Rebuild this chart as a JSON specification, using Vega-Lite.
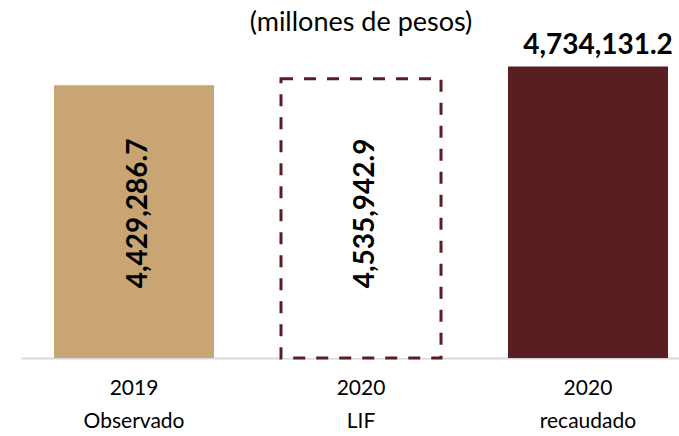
{
  "$schema": "https://vega.github.io/schema/vega-lite/v6.json",
  "width": 658,
  "height": 357,
  "autosize": {"type": "none"},
  "padding": {"left": 21, "top": 1, "right": 0, "bottom": 78},
  "background": "white",
  "config": {"view": {"stroke": null}, "font": "Lato"},
  "data": {
    "values": [
      {"cat": "2019|Observado", "value": 4429286.7},
      {"cat": "2020|LIF", "value": 4535942.9},
      {"cat": "2020|recaudado", "value": 4734131.2}
    ]
  },
  "encoding": {
    "x": {
      "field": "cat",
      "type": "nominal",
      "sort": ["2019|Observado", "2020|LIF", "2020|recaudado"],
      "scale": {"paddingInner": 0.295, "paddingOuter": 0.097, "align": 0.75},
      "axis": {
        "title": null,
        "labelAngle": 0,
        "labelExpr": "split(datum.label, '|')",
        "labelFont": "Lato",
        "labelFontSize": 21,
        "labelColor": "#000000",
        "labelLineHeight": 33,
        "labelPadding": 19,
        "ticks": false,
        "grid": false,
        "domainColor": "#d9d9d9",
        "domainWidth": 2
      }
    }
  },
  "layer": [
    {
      "transform": [{"filter": "datum.cat != '2020|LIF'"}],
      "mark": {"type": "bar"},
      "encoding": {
        "y": {"field": "value", "type": "quantitative", "scale": {"domain": [0, 5800000], "nice": false}, "axis": null},
        "color": {
          "field": "cat",
          "type": "nominal",
          "scale": {"domain": ["2019|Observado", "2020|recaudado"], "range": ["#C8A573", "#591E22"]},
          "legend": null
        }
      }
    },
    {
      "transform": [{"filter": "datum.cat == '2020|LIF'"}],
      "mark": {"type": "bar", "fill": "#ffffff", "stroke": "#591E22", "strokeWidth": 3, "strokeDash": [12, 11]},
      "encoding": {
        "y": {"field": "value", "type": "quantitative", "scale": {"domain": [0, 5800000], "nice": false}, "axis": null}
      }
    },
    {
      "transform": [{"filter": "datum.cat == '2020|recaudado'"}],
      "mark": {"type": "text", "fontWeight": "bold", "fontSize": 28, "baseline": "alphabetic", "align": "center", "dy": -13, "dx": 10, "color": "#000000"},
      "encoding": {
        "y": {"field": "value", "type": "quantitative", "scale": {"domain": [0, 5800000], "nice": false}, "axis": null},
        "text": {"field": "value", "type": "quantitative", "format": ",.1f"}
      }
    },
    {
      "transform": [{"filter": "datum.cat != '2020|recaudado'"}],
      "mark": {"type": "text", "fontWeight": "bold", "fontSize": 28, "angle": 270, "baseline": "middle", "align": "center", "dy": 5, "color": "#000000"},
      "encoding": {
        "y": {"datum": 2350000, "type": "quantitative", "scale": {"domain": [0, 5800000], "nice": false}, "axis": null},
        "text": {"field": "value", "type": "quantitative", "format": ",.1f"}
      }
    },
    {
      "transform": [{"filter": "datum.cat == '2020|LIF'"}],
      "mark": {"type": "text", "fontSize": 27, "baseline": "alphabetic", "align": "center", "color": "#000000"},
      "encoding": {
        "y": {"datum": 5312600, "type": "quantitative", "scale": {"domain": [0, 5800000], "nice": false}, "axis": null},
        "text": {"value": "(millones de pesos)"}
      }
    }
  ]
}
